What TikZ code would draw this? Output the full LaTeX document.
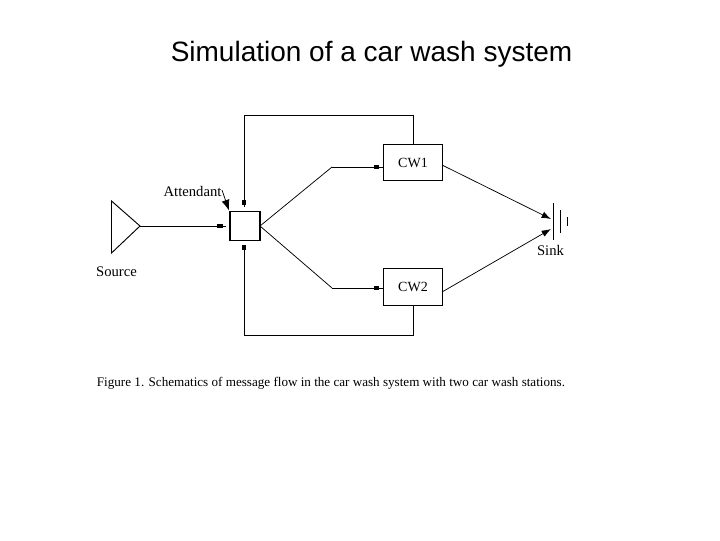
\documentclass[tikz,border=0pt]{standalone}
\usepackage{fontspec}
\setmainfont{Liberation Serif}
\newfontfamily\titlefont{Liberation Sans}
\usetikzlibrary{arrows.meta,decorations.markings,calc}
\tikzset{
  px/.style={x=0.75pt,y=-0.75pt},
  boxnode/.style={draw=black,line width=0.8pt,fill=white,inner sep=0pt,font=\fontsize{10.5}{12}\selectfont},
  lbl/.style={inner sep=0pt,font=\fontsize{11}{12}\selectfont},
  wire/.style={draw=black,line width=0.7pt},
  thinwire/.style={draw=black,line width=0.55pt},
  sq/.style={postaction={decorate,decoration={markings,
     mark=at position #1 with {\fill[black] (-1.9pt,-1.7pt) rectangle (1.9pt,1.7pt);}}}},
  head/.style={-{Latex[length=7pt,width=5pt]}},
}
\begin{document}
\begin{tikzpicture}[px]
\useasboundingbox (0,0) rectangle (720,540);
\fill[white] (0,0) rectangle (720,540);
\node[inner sep=0pt,font=\titlefont\fontsize{21}{24}\selectfont] (title) at (371.5,54) {Simulation of a car wash system};

\node[boxnode,minimum width=22.5pt,minimum height=22pt] (att) at (245,226) {};
\node[boxnode,minimum width=44pt,minimum height=27.5pt] (cw1) at (413,162.5) {CW1};
\node[boxnode,minimum width=44pt,minimum height=27.5pt] (cw2) at (413,287) {CW2};

% Source triangle
\coordinate (srcA) at (111.5,201);
\coordinate (srcB) at (111.5,253);
\coordinate (srcC) at (140,226);
\draw[wire,line join=miter] (srcA) -- (srcC) -- (srcB) -- cycle;
\node[lbl] (srclbl) at (116.5,272) {Source};

% Sink bars
\coordinate (s1a) at (553,203); \coordinate (s1b) at (553,240);
\coordinate (s2a) at (560,210); \coordinate (s2b) at (560,233);
\coordinate (s3a) at (567,217); \coordinate (s3b) at (567,226);
\draw[wire] (s1a) -- (s1b);
\draw[wire] (s2a) -- (s2b);
\draw[thinwire] (s3a) -- (s3b);
\node[lbl] (sinklbl) at (550.5,250.5) {Sink};

% Attendant
\node[lbl] (attlbl) at (192.5,191) {Attendant};
\coordinate (attS) at (222,190);
\coordinate (attE) at (229,210.5);
\draw[thinwire,-{Latex[length=8pt,width=6pt]}] (attS) -- (attE);

% Source to attendant
\coordinate (srcIn) at (226,226);
\draw[wire,sq=0.93] (srcC) -- (srcIn);

% Attendant to car washes
\coordinate (k1) at (332,167);
\coordinate (k2) at (332,288);
\coordinate (att1) at (260,226);
\draw[thinwire] (att1) -- (k1);
\draw[thinwire] (att1) -- (k2);
\draw[wire,sq=0.87] (k1) -- (k1-|cw1.west);
\draw[wire,sq=0.87] (k2) -- (k2-|cw2.west);

% Feedback loops
\coordinate (topR) at (413,115);
\coordinate (topL) at (244,115);
\coordinate (botR) at (413,335);
\coordinate (botL) at (244,335);
\coordinate (inT) at (244,207);
\coordinate (inB) at (244,245);
\draw[wire,sq=0.986] (cw1.north) -- (topR) -- (topL) -- (inT);
\draw[wire,sq=0.99] (cw2.south) -- (botR) -- (botL) -- (inB);

% To sink
\coordinate (cw1o) at (442,165);
\coordinate (cw2o) at (442,292);
\coordinate (snk1) at (551,219);
\coordinate (snk2) at (551,229);
\draw[thinwire,head] (cw1o) -- (snk1);
\draw[thinwire,head] (cw2o) -- (snk2);

\node[inner sep=0pt,font=\fontsize{9.83}{12}\selectfont] (cap) at (331,383.5) {Figure 1. Schematics of message flow in the car wash system with two car wash stations.};
\end{tikzpicture}
\end{document}
